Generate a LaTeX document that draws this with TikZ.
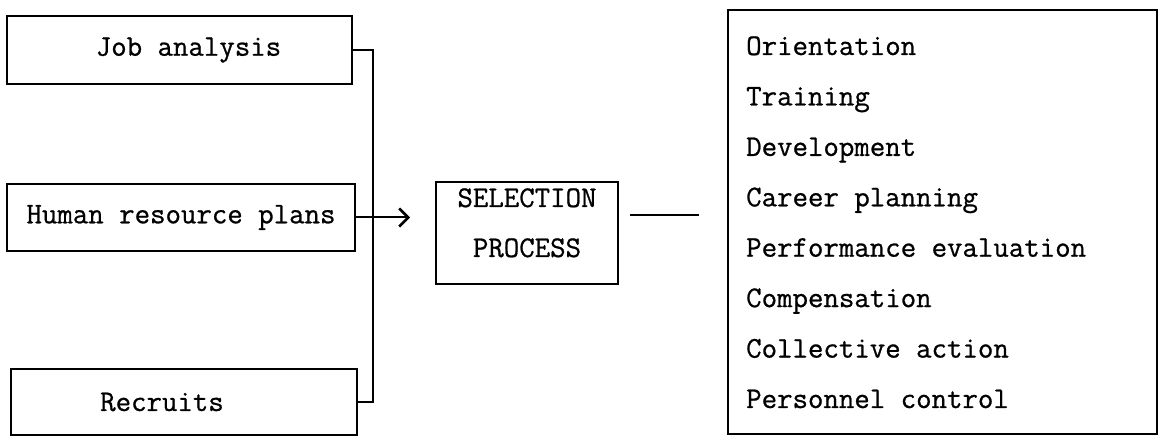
\documentclass[tikz,border=0pt]{standalone}
\usepackage{fontspec}
\newfontfamily\typew[FakeBold=0.8]{Latin Modern Mono}
\usetikzlibrary{arrows.meta}
\begin{document}
\begin{tikzpicture}[x=1pt,y=1pt,
  tt/.style={font=\typew\fontsize{30}{50}\selectfont},
  srcbox/.style={draw,line width=2pt,tt,inner sep=0pt},
  item/.style={tt,anchor=base west,inner sep=0pt},
  wire/.style={line width=2pt}]
\useasboundingbox (0,0) rectangle (1158,436);
% input boxes
\node[srcbox,minimum width=345,minimum height=68] (job) at (179.5,386) {\hspace*{18pt}Job analysis};
\node[srcbox,minimum width=348,minimum height=67] (hr) at (181,218.5) {Human resource plans};
\node[srcbox,minimum width=346,minimum height=66] (rec) at (184,34) {Recruits\hspace*{44pt}};
% selection box
\node[srcbox,minimum width=182,minimum height=102] (sel) at (527,203) {};
\node[tt,anchor=base,inner sep=0pt] (selt) at (527,229) {SELECTION};
\node[tt,anchor=base,inner sep=0pt] (selp) at (527,179) {PROCESS};
% right box
\node[draw,line width=2pt,minimum width=429,minimum height=424] (out) at (942.5,214) {};
% bus
\coordinate (bt) at (373,386);
\coordinate (bb) at (373,34);
\draw[wire] (job.east) -- (bt) -- (bb) -- (rec.east);
\coordinate (tip) at (410,218.5);
\draw[wire,-{Straight Barb[length=9pt,width=18pt,line width=2.5pt]}] (hr.east) -- (tip);
\coordinate (l1) at (630,221);
\coordinate (l2) at (699,221);
\draw[wire] (l1) -- (l2);
% items
\node[item] (i1) at (746,381) {Orientation};
\node[item] (i2) at (746,330.6) {Training};
\node[item] (i3) at (746,280.1) {Development};
\node[item] (i4) at (746,229.7) {Career planning};
\node[item] (i5) at (746,179.3) {Performance evaluation};
\node[item] (i6) at (746,128.9) {Compensation};
\node[item] (i7) at (746,78.4) {Collective action};
\node[item] (i8) at (746,28) {Personnel control};
\end{tikzpicture}
\end{document}
